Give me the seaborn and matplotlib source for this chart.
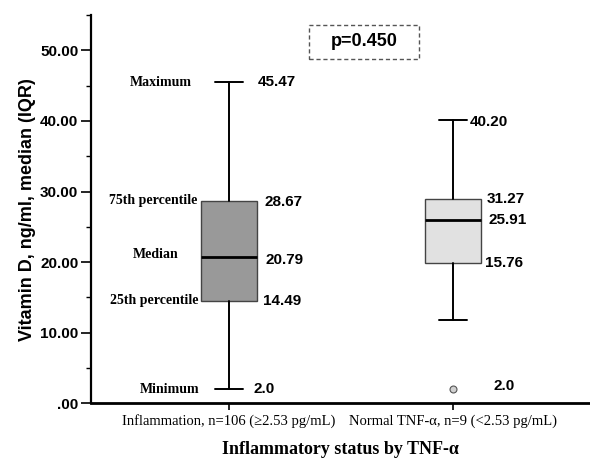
import matplotlib
matplotlib.use("Agg")
import matplotlib.pyplot as plt
import matplotlib.patches as mpatches
from matplotlib.ticker import MultipleLocator, FuncFormatter
import seaborn as sns

# Data
groups = ["Inflammation, n=106 (\u22652.53 pg/mL)", "Normal TNF-\u03b1, n=9 (<2.53 pg/mL)"]
q1 = [14.49, 19.9]
medians = [20.79, 25.91]
q3 = [28.67, 29.0]
whisker_low = [2.0, 11.85]
whisker_high = [45.47, 40.20]
outliers = [[], [2.0]]
box_colors = ["#999999", "#e1e1e1"]

# Printed labels next to each box
stat_names = ["Maximum", "75th percentile", "Median", "25th percentile", "Minimum"]
labels_g1 = ["45.47", "28.67", "20.79", "14.49", "2.0"]
labels_g2 = ["40.20", "31.27", "25.91", "15.76", "2.0"]
p_text = "p=0.450"

sns.set_style("ticks")
plt.rcParams["font.family"] = ["Liberation Sans", "DejaVu Sans"]
plt.rcParams.update({"text.color": "black", "axes.labelcolor": "black",
                     "xtick.color": "black", "ytick.color": "black",
                     "axes.edgecolor": "black"})
serif = ["Liberation Serif", "DejaVu Serif"]

fig = plt.figure(figsize=(5.9, 4.59), dpi=100)
ax = fig.add_axes([0.154, 0.1213, 0.846, 0.8459])

stats = []
for i, g in enumerate(groups):
    stats.append(dict(label=g, q1=q1[i], med=medians[i], q3=q3[i],
                      whislo=whisker_low[i], whishi=whisker_high[i],
                      fliers=outliers[i]))

bp = ax.bxp(stats, positions=[0, 1], widths=0.25, patch_artist=True,
            showfliers=True,
            boxprops=dict(edgecolor="#444444", linewidth=1.0),
            medianprops=dict(color="black", linewidth=2.0),
            whiskerprops=dict(color="black", linewidth=1.4),
            capprops=dict(color="black", linewidth=1.4),
            capwidths=0.125,
            flierprops=dict(marker="o", markersize=5, markerfacecolor="#d0d0d0",
                            markeredgecolor="#555555", markeredgewidth=0.8))
for patch, c in zip(bp["boxes"], box_colors):
    patch.set_facecolor(c)

ax.set_xlim(-0.616, 1.61)
ax.set_ylim(0, 55)
ax.yaxis.set_major_locator(MultipleLocator(10))
ax.yaxis.set_minor_locator(MultipleLocator(5))
ax.yaxis.set_major_formatter(FuncFormatter(lambda v, p: ".00" if v == 0 else f"{v:.2f}"))
ax.set_xticks([0, 1])
ax.set_xticklabels(groups, family=serif, fontsize=10.5)
for lab in ax.get_yticklabels():
    lab.set_fontsize(11)
    lab.set_fontweight("bold")

ax.tick_params(axis="y", which="major", length=7, width=1.2, pad=2, colors="black")
ax.tick_params(axis="y", which="minor", length=3.5, width=1.0)
ax.tick_params(axis="x", length=5, width=1.2, pad=3)
sns.despine(ax=ax)
ax.spines["left"].set_linewidth(1.6)
ax.spines["bottom"].set_linewidth(2.0)

ax.set_ylabel("Vitamin D, ng/ml, median (IQR)", fontsize=13, fontweight="bold")
ax.yaxis.set_label_coords(-0.11, 0.5)
ax.set_xlabel("Inflammatory status by TNF-\u03b1", family=serif, fontsize=13,
              fontweight="bold")
ax.xaxis.set_label_coords(0.5, -0.097)

px = 0.72  # points per pixel
# Box 1 annotations: (value, name offset px, number offset px, dy px)
vals1 = [whisker_high[0], q3[0], medians[0], q1[0], whisker_low[0]]
name_dx = [-37, -32, -50, -30, -30]
name_dy = [0, 0, 2, 1, 0]
num_dx = [29, 36, 37, 34, 25]
num_dy = [0, -1, -3, 0, 0]
for v, name, lab, ndx, ndy, mdx, mdy in zip(vals1, stat_names, labels_g1,
                                             name_dx, name_dy, num_dx, num_dy):
    ax.annotate(name, xy=(0, v), xytext=(ndx * px, ndy * px), textcoords="offset points",
                ha="right", va="center", family=serif, fontsize=10, fontweight="bold")
    ax.annotate(lab, xy=(0, v), xytext=(mdx * px, mdy * px), textcoords="offset points",
                ha="left", va="center", fontsize=11, fontweight="bold")

vals2 = [whisker_high[1], q3[1], medians[1], q1[1], outliers[1][0]]
num_dx2 = [17, 33, 35, 32, 40]
num_dy2 = [-2, 0, 0, 0, 3]
for v, lab, mdx, mdy in zip(vals2, labels_g2, num_dx2, num_dy2):
    ax.annotate(lab, xy=(1, v), xytext=(mdx * px, mdy * px), textcoords="offset points",
                ha="left", va="center", fontsize=11, fontweight="bold")

# p-value in a dashed box
ax.add_patch(mpatches.Rectangle((0.437, 0.886), 0.220, 0.0883, transform=ax.transAxes,
                                fill=False, linestyle=(0, (3, 2)), edgecolor="#555555",
                                linewidth=1.0, clip_on=False))
ax.text(0.547, 0.931, p_text, transform=ax.transAxes, ha="center", va="center",
        fontsize=13, fontweight="bold")

fig.savefig("out.png", dpi=100)
